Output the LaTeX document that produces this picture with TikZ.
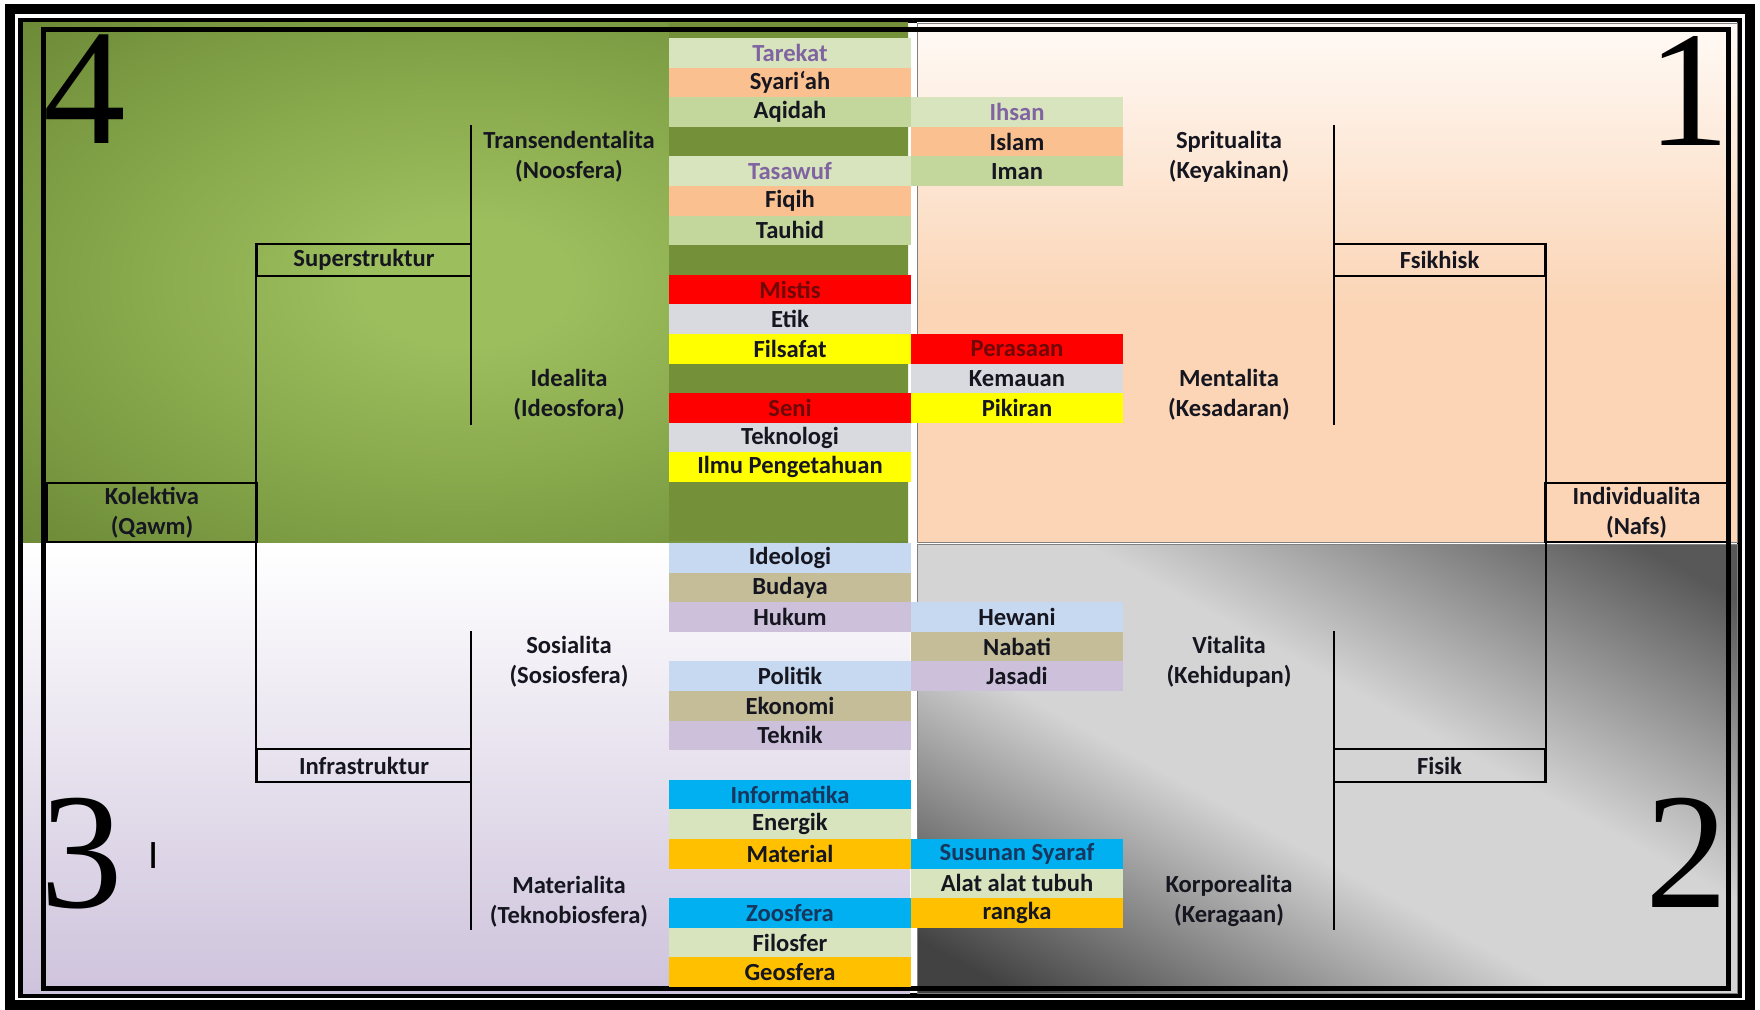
\documentclass[tikz,border=0pt]{standalone}
\usepackage{fontspec}
\setmainfont{Carlito}
\newfontfamily\numfont{Liberation Serif}

\definecolor{greenin}{RGB}{157,190,93}
\definecolor{greenmid}{RGB}{128,160,70}
\definecolor{greenout}{RGB}{108,137,55}
\definecolor{olivecol}{RGB}{116,145,58}
\definecolor{peach}{RGB}{251,213,182}
\definecolor{peachtop}{RGB}{255,250,246}
\definecolor{lilac}{RGB}{206,195,220}
\definecolor{greytop}{RGB}{88,88,88}
\definecolor{greymid}{RGB}{212,212,212}
\definecolor{greybot}{RGB}{66,66,66}
\definecolor{palegreen}{RGB}{215,228,189}
\definecolor{apricot}{RGB}{250,192,144}
\definecolor{sage}{RGB}{195,214,155}
\definecolor{redcell}{RGB}{255,0,0}
\definecolor{silver}{RGB}{217,218,224}
\definecolor{yellowcell}{RGB}{255,255,0}
\definecolor{skyblue}{RGB}{198,217,241}
\definecolor{tancell}{RGB}{196,189,151}
\definecolor{lavender}{RGB}{204,192,218}
\definecolor{cyancell}{RGB}{0,176,240}
\definecolor{amber}{RGB}{255,192,0}
\definecolor{ink}{RGB}{22,22,32}
\definecolor{plum}{RGB}{128,100,162}
\definecolor{darkred}{RGB}{112,8,8}
\definecolor{navy}{RGB}{23,55,94}

\pgfdeclareradialshading{greenglow}{\pgfpoint{0bp}{0bp}}{color(0bp)=(greenin); color(6bp)=(greenin); color(24bp)=(greenmid); color(36bp)=(greenout); color(50bp)=(greenout)}
\pgfdeclareverticalshading{peachfade}{100bp}{color(0bp)=(peach); color(48bp)=(peach); color(75bp)=(peachtop); color(100bp)=(peachtop)}
\pgfdeclareverticalshading{greydiag}{100bp}{color(0bp)=(greybot); color(20bp)=(greybot); color(43bp)=(greymid); color(57bp)=(greymid); color(80bp)=(greytop); color(100bp)=(greytop)}

\begin{document}
\begin{tikzpicture}[x=0.02cm,y=-0.02cm,
	cell/.style={minimum width=4.84cm,minimum height=0.592cm,inner sep=0pt,font=\fontsize{14}{17}\selectfont\bfseries},
	cellr/.style={cell,minimum width=4.24cm},
	tag/.style={align=center,inner sep=0pt,font=\fontsize{14}{17}\selectfont\bfseries,text=ink},
	branch/.style={draw=black,line width=1.2pt,align=center,inner sep=0pt,font=\fontsize{14}{17}\selectfont\bfseries,text=ink},
	wire/.style={line width=1.2pt},
	big/.style={font=\numfont\fontsize{94}{94}\selectfont,inner sep=0pt,anchor=base west}]
	\useasboundingbox (0,0) rectangle (1760,1010);
	\fill[white] (0,0) rectangle (1760,1010);
	\draw[line width=0.2cm] (10,9) rectangle (1750,1005);
	\draw[line width=0.1cm] (20.5,20.5) rectangle (1739.5,995.5);
	\shade[shading=greenglow] (23,23) rectangle (908,543);
	\fill[olivecol] (669,23) rectangle (908,541);
	\shade[shading=peachfade,draw=gray,line width=0.5pt] (917,23) rectangle (1737,542.5);
	\shade[top color=white,bottom color=lilac] (23,543) rectangle (910,993);
	\shade[shading=greydiag,shading angle=-28.7,draw=gray,line width=0.5pt] (917,544.5) rectangle (1737,993);
	\draw[line width=0.1cm] (43.5,30) rectangle (1728.5,988.5);

	\foreach \i/\t/\c/\f in {0/Tarekat/palegreen/plum,1/Syari`ah/apricot/ink,2/Aqidah/sage/ink,
		4/Tasawuf/palegreen/plum,5/Fiqih/apricot/ink,6/Tauhid/sage/ink,
		8/Mistis/redcell/darkred,9/Etik/silver/ink,10/Filsafat/yellowcell/ink,
		12/Seni/redcell/darkred,13/Teknologi/silver/ink,14/Ilmu Pengetahuan/yellowcell/ink}
		\node[cell,fill=\c,text=\f] (tl\i) at (790,{52.8+29.6*\i}) {\t};
	\foreach \i/\t/\c/\f in {2/Ihsan/palegreen/plum,3/Islam/apricot/ink,4/Iman/sage/ink,
		10/Perasaan/redcell/darkred,11/Kemauan/silver/ink,12/Pikiran/yellowcell/ink}
		\node[cellr,fill=\c,text=\f] (tr\i) at (1017,{52.8+29.6*\i}) {\t};
	\foreach \i/\t/\c/\f in {0/Ideologi/skyblue/ink,1/Budaya/tancell/ink,2/Hukum/lavender/ink,
		4/Politik/skyblue/ink,5/Ekonomi/tancell/ink,6/Teknik/lavender/ink,
		8/Informatika/cyancell/navy,9/Energik/palegreen/ink,10/Material/amber/ink,
		12/Zoosfera/cyancell/navy,13/Filosfer/palegreen/ink,14/Geosfera/amber/ink}
		\node[cell,fill=\c,text=\f] (bl\i) at (790,{557.8+29.6*\i}) {\t};
	\foreach \i/\t/\c/\f in {2/Hewani/skyblue/ink,3/Nabati/tancell/ink,4/Jasadi/lavender/ink,
		10/Susunan Syaraf/cyancell/navy,11/Alat alat tubuh/palegreen/ink,12/rangka/amber/ink}
		\node[cellr,fill=\c,text=\f] (br\i) at (1017,{557.8+29.6*\i}) {\t};

	\node[branch,minimum width=4.2cm,minimum height=1.18cm] (kol) at (152,512.5) {Kolektiva\\(Qawm)};
	\node[branch,minimum width=4.28cm,minimum height=0.64cm] (sup) at (364,260) {Superstruktur};
	\node[branch,minimum width=4.28cm,minimum height=0.66cm] (inf) at (364,765.5) {Infrastruktur};
	\node[branch,minimum width=4.22cm,minimum height=0.64cm] (psy) at (1439.5,260) {Fsikhisk};
	\node[branch,minimum width=4.22cm,minimum height=0.66cm] (phy) at (1439.5,765.5) {Fisik};
	\node[branch,minimum width=3.66cm,minimum height=1.18cm] (ind) at (1636.5,512.5) {Individualita\\(Nafs)};

	\node[tag] (trans) at (569,157) {Transendentalita\\(Noosfera)};
	\node[tag] (ideal) at (569,395) {Idealita\\(Ideosfora)};
	\node[tag] (sosial) at (569,662) {Sosialita\\(Sosiosfera)};
	\node[tag] (mater) at (569,902) {Materialita\\(Teknobiosfera)};
	\node[tag] (spirit) at (1229,157) {Spritualita\\(Keyakinan)};
	\node[tag] (mental) at (1229,395) {Mentalita\\(Kesadaran)};
	\node[tag] (vital) at (1229,662) {Vitalita\\(Kehidupan)};
	\node[tag] (korpo) at (1229,901) {Korporealita\\(Keragaan)};

	\coordinate (superTop) at (471,125);
	\coordinate (superBot) at (471,425);
	\coordinate (infraTop) at (471,631);
	\coordinate (infraBot) at (471,930);
	\coordinate (psyTop) at (1334,125);
	\coordinate (psyBot) at (1334,425);
	\coordinate (phyTop) at (1334,631);
	\coordinate (phyBot) at (1334,930);
	\draw[wire] (sup.north west) -- (inf.south west);
	\draw[wire] (psy.north east) -- (phy.south east);
	\draw[wire] (superTop) -- (superBot);
	\draw[wire] (infraTop) -- (infraBot);
	\draw[wire] (psyTop) -- (psyBot);
	\draw[wire] (phyTop) -- (phyBot);

	\node[big] (four) at (43,144) {4};
	\node[big] (one) at (1647,146) {1};
	\node[big] (three) at (40,907) {3};
	\node[big] (two) at (1645,907) {2};
	\node[inner sep=0pt,anchor=base,font=\fontsize{23}{23}\selectfont] (bar) at (154,868) {I};
\end{tikzpicture}
\end{document}
